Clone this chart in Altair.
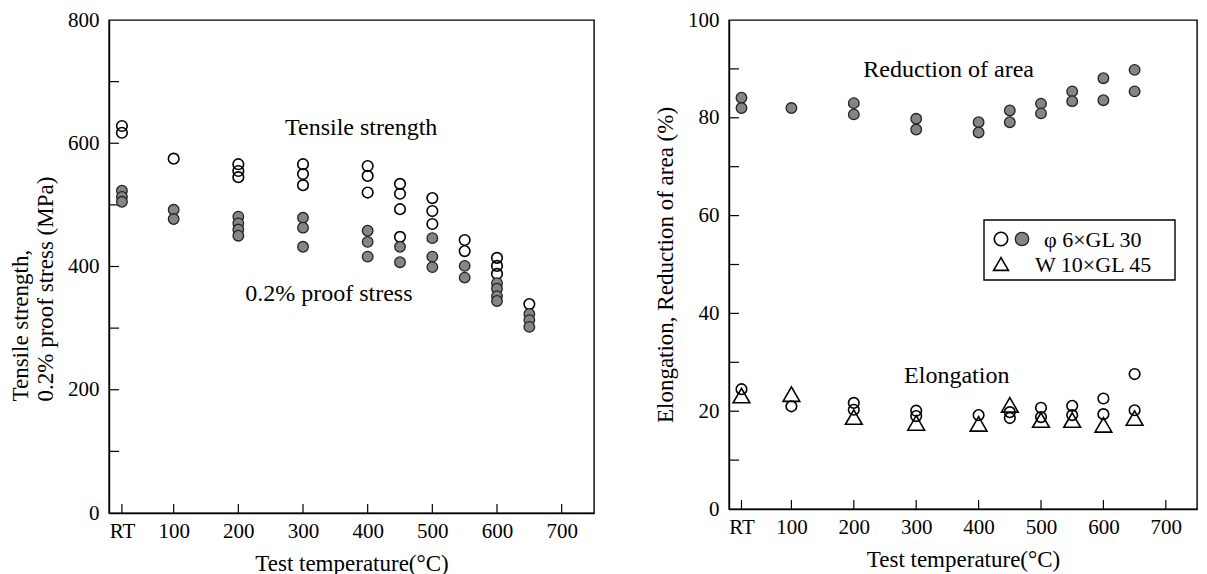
import altair as alt
import pandas as pd

# ---------------- data ----------------
# Left panel: tensile strength (open circles) and 0.2% proof stress (filled)
ts_temp = [20, 20, 100, 200, 200, 200, 300, 300, 300, 400, 400, 400,
           450, 450, 450, 450, 500, 500, 500, 550, 550, 600, 600, 600, 650]
ts_val = [628, 617, 575, 566, 555, 545, 566, 550, 532, 563, 547, 520,
          534, 518, 493, 448, 511, 490, 469, 443, 425, 414, 401, 388, 339]

ps_temp = [20, 20, 20, 100, 100, 200, 200, 200, 200, 300, 300, 300,
           400, 400, 400, 450, 450, 500, 500, 500, 550, 550,
           600, 600, 600, 600, 650, 650, 650]
ps_val = [523, 513, 505, 492, 477, 481, 470, 460, 450, 479, 463, 432,
          458, 440, 416, 432, 407, 446, 416, 399, 401, 382,
          373, 364, 352, 344, 323, 313, 302]

# Right panel: reduction of area (filled), elongation (open circles, triangles)
ra_temp = [20, 20, 100, 200, 200, 300, 300, 400, 400, 450, 450,
           500, 500, 550, 550, 600, 600, 650, 650]
ra_val = [84.1, 82.0, 82.0, 83.0, 80.7, 79.8, 77.6, 79.1, 77.0, 81.5, 79.1,
          82.9, 80.9, 85.4, 83.4, 88.1, 83.6, 89.8, 85.4]

el_temp = [20, 100, 200, 200, 300, 300, 400, 450, 450, 500, 500,
           550, 550, 600, 600, 650, 650]
el_val = [24.5, 21.0, 21.7, 20.3, 20.1, 19.0, 19.2, 19.8, 18.6, 20.7, 18.8,
          21.1, 19.2, 22.6, 19.4, 27.6, 20.2]

tr_temp = [20, 100, 200, 300, 400, 450, 500, 550, 600, 650]
tr_val = [23.2, 23.5, 18.8, 17.6, 17.4, 21.3, 18.2, 18.2, 17.2, 18.6]

# tick values / labels
x_ticks = [20, 100, 200, 300, 400, 500, 600, 700]
left_y_labels = [0, 200, 400, 600, 800]
left_y_ticks = [100, 200, 300, 400, 500, 600, 700]
right_y_labels = [0, 20, 40, 60, 80, 100]
right_y_ticks = [10, 20, 30, 40, 50, 60, 70, 80, 90]

FONT = "Liberation Serif"
GREY = "#858585"

LW, LH = 485, 493
RW, RH = 468, 489

xscale = alt.Scale(domain=[0, 750], nice=False, zero=False)
xaxis = alt.Axis(values=x_ticks, ticks=False, grid=False, labelPadding=7,
                 labelExpr="datum.value == 20 ? 'RT' : datum.label",
                 title="Test temperature(°C)", titlePadding=11)


def X(field="t"):
    return alt.X(f"{field}:Q", scale=xscale, axis=xaxis)


def make_y(domain, labels, title, **extra):
    sc = alt.Scale(domain=domain, nice=False, zero=False)
    ax = alt.Axis(values=labels, ticks=False, grid=False, labelPadding=10,
                  title=title, titlePadding=10, **extra)

    def Y(field="v"):
        return alt.Y(f"{field}:Q", scale=sc, axis=ax)
    return Y


def pts(temps, vals, label):
    return pd.DataFrame({"t": temps, "v": vals, "s": label})


# ---------------- left panel ----------------
YL = make_y([0, 800], left_y_labels, ["Tensile strength,", "0.2% proof stress (MPa)"],
            titleAlign="left", titleY=381)

l_open = alt.Chart(pts(ts_temp, ts_val, "ts")).mark_point(
    shape="circle", filled=False, stroke="black", strokeWidth=1.6, size=112, opacity=1
).encode(x=X(), y=YL())

l_fill = alt.Chart(pts(ps_temp, ps_val, "ps")).mark_point(
    shape="circle", filled=True, fill=GREY, stroke="#222", strokeWidth=1.3, size=112, opacity=1
).encode(x=X(), y=YL())

l_yt = alt.Chart(pd.DataFrame({"v": left_y_ticks})).mark_rule(color="black", strokeWidth=1.2).encode(
    y=YL(), x=alt.value(0), x2=alt.value(10))
l_xt = alt.Chart(pd.DataFrame({"t": x_ticks})).mark_rule(color="black", strokeWidth=1.2).encode(
    x=X(), y=alt.value(LH), y2=alt.value(LH - 9))

one = pd.DataFrame({"a": [0]})
l_txt1 = alt.Chart(one).mark_text(font=FONT, fontSize=24, color="black").encode(
    x=alt.datum(390), y=alt.datum(625), text=alt.value("Tensile strength"))
l_txt2 = alt.Chart(one).mark_text(font=FONT, fontSize=24, color="black").encode(
    x=alt.datum(340), y=alt.datum(355), text=alt.value("0.2% proof stress"))

left = alt.layer(l_yt, l_xt, l_open, l_fill, l_txt1, l_txt2).properties(width=LW, height=LH)

# ---------------- right panel ----------------
YR = make_y([0, 100], right_y_labels, "Elongation, Reduction of area (%)")

r_fill = alt.Chart(pts(ra_temp, ra_val, "ra")).mark_point(
    shape="circle", filled=True, fill=GREY, stroke="#222", strokeWidth=1.3, size=112, opacity=1
).encode(x=X(), y=YR())
r_open = alt.Chart(pts(el_temp, el_val, "el")).mark_point(
    shape="circle", filled=False, stroke="black", strokeWidth=1.6, size=112, opacity=1
).encode(x=X(), y=YR())
r_tri = alt.Chart(pts(tr_temp, tr_val, "tr")).mark_point(
    shape="triangle-up", filled=False, stroke="black", strokeWidth=1.6, size=280, opacity=1
).encode(x=X(), y=YR())

r_yt = alt.Chart(pd.DataFrame({"v": right_y_ticks})).mark_rule(color="black", strokeWidth=1.2).encode(
    y=YR(), x=alt.value(0), x2=alt.value(10))
r_xt = alt.Chart(pd.DataFrame({"t": x_ticks})).mark_rule(color="black", strokeWidth=1.2).encode(
    x=X(), y=alt.value(RH), y2=alt.value(RH - 9))

r_txt1 = alt.Chart(one).mark_text(font=FONT, fontSize=24, color="black").encode(
    x=alt.datum(352), y=alt.datum(89.8), text=alt.value("Reduction of area"))
r_txt2 = alt.Chart(one).mark_text(font=FONT, fontSize=24, color="black").encode(
    x=alt.datum(365), y=alt.datum(27.2), text=alt.value("Elongation"))

# legend box (drawn by hand, like the reference)
leg_box = alt.Chart(one).mark_rect(fill="white", stroke="black", strokeWidth=1.4).encode(
    x=alt.value(255), x2=alt.value(446), y=alt.value(200), y2=alt.value(260))
leg_o = alt.Chart(one).mark_point(shape="circle", filled=False, stroke="black",
                                  strokeWidth=1.6, size=180, opacity=1).encode(
    x=alt.value(272), y=alt.value(219))
leg_f = alt.Chart(one).mark_point(shape="circle", filled=True, fill=GREY, stroke="#222",
                                  strokeWidth=1.3, size=180, opacity=1).encode(
    x=alt.value(293), y=alt.value(219))
leg_t = alt.Chart(one).mark_point(shape="triangle-up", filled=False, stroke="black",
                                  strokeWidth=1.6, size=220, opacity=1).encode(
    x=alt.value(272), y=alt.value(244))
leg_l1 = alt.Chart(one).mark_text(font=FONT, fontSize=22, align="left", baseline="middle",
                                  color="black").encode(
    x=alt.value(315), y=alt.value(220), text=alt.value("φ 6×GL 30"))
leg_l2 = alt.Chart(one).mark_text(font=FONT, fontSize=22, align="left", baseline="middle",
                                  color="black").encode(
    x=alt.value(306), y=alt.value(245), text=alt.value("W 10×GL 45"))

right = alt.layer(r_yt, r_xt, r_fill, r_open, r_tri, r_txt1, r_txt2,
                  leg_box, leg_o, leg_f, leg_t, leg_l1, leg_l2).properties(width=RW, height=RH)

chart = alt.hconcat(left, right, spacing=58).properties(
    padding={"left": 8, "top": 8, "right": 0, "bottom": 0}
).configure(
    background="white"
).configure_view(
    stroke="black", strokeWidth=1.4
).configure_axis(
    domainColor="black", domainWidth=1.4, labelColor="black", titleColor="black",
    labelFont=FONT, titleFont=FONT, labelFontSize=21, titleFontSize=23,
    titleFontWeight="normal"
)

chart.save("out.html", embed_options={"renderer": "svg", "actions": False})
